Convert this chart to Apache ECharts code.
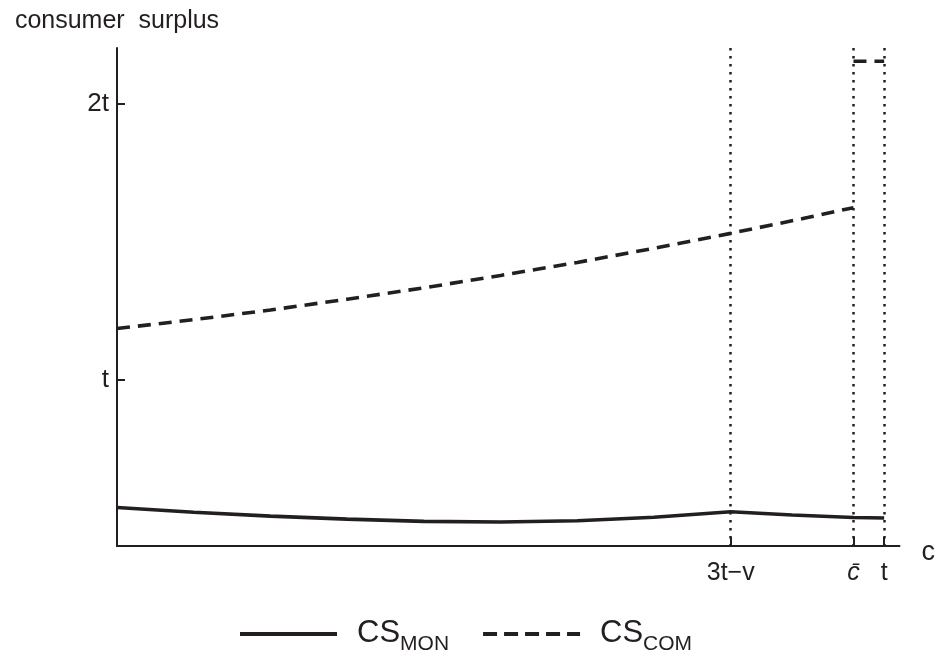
<!DOCTYPE html>
<html>
<head>
<meta charset="utf-8">
<script src="https://cdn.jsdelivr.net/npm/echarts@6/dist/echarts.min.js"></script>
<style>html,body{margin:0;padding:0;background:#fff;}#chart{width:938px;height:657px;}</style>
</head>
<body>
<div id="chart"></div>
<script>
// x in units of t (t = 1); y in units of t
const xTickValues = [0.8, 0.96, 1];
const xTickLabels = ['3t\u2212v', 'c\u0304', 't'];
const yTickValues = [1, 2];
const yTickLabels = ['t', '2t'];
const guideX = [0.8, 0.96, 1];

const monX = [0, 0.1, 0.2, 0.3, 0.4, 0.5, 0.6, 0.7, 0.8, 0.88, 0.96, 1];
const monY = [0.539, 0.522, 0.508, 0.497, 0.489, 0.487, 0.491, 0.504, 0.524, 0.512, 0.503, 0.501];

const comX = [0, 0.1, 0.2, 0.3, 0.4, 0.5, 0.6, 0.7, 0.8, 0.9, 0.96];
const comY = [1.186, 1.218, 1.253, 1.292, 1.333, 1.378, 1.425, 1.476, 1.530, 1.587, 1.623];
const comHighX = [0.96, 1];
const comHighY = [2.152, 2.152];

const seriesNames = ['CS_MON', 'CS_COM'];
const legendSub = {CS_MON: 'MON', CS_COM: 'COM'};

const FONT = "'Liberation Sans', Arial, Helvetica, sans-serif";
const INK = '#231f20';

const monData = monX.map((x, i) => [x, monY[i]]);
const comData = comX.map((x, i) => [x, comY[i]]);
comData.push([comX[comX.length - 1], '-']);
comHighX.forEach((x, i) => comData.push([x, comHighY[i]]));

const chart = echarts.init(document.getElementById('chart'), null, {renderer: 'canvas'});
chart.setOption({
  animation: false,
  backgroundColor: '#fff',
  textStyle: {fontFamily: FONT, color: INK},
  grid: {left: 117, right: 34, top: 48, bottom: 111, containLabel: false},
  xAxis: {
    type: 'value', min: 0, max: 1.02,
    name: 'c', nameLocation: 'end', nameGap: 22,
    nameTextStyle: {fontFamily: FONT, fontSize: 27, color: INK, verticalAlign: 'top', lineHeight: 14},
    axisLine: {show: true, onZero: false, lineStyle: {color: INK, width: 2}},
    axisTick: {show: true, inside: true, length: 9, customValues: xTickValues, lineStyle: {color: INK, width: 2}},
    axisLabel: {
      show: true, margin: 15, customValues: xTickValues, fontFamily: FONT, fontSize: 25, color: INK,
      formatter: function (v) {
        const i = xTickValues.findIndex(t => Math.abs(t - v) < 1e-6);
        const s = i >= 0 ? xTickLabels[i] : '';
        return i === 1 ? '{i|' + s + '}' : s;
      },
      rich: {i: {fontFamily: FONT, fontSize: 25, fontStyle: 'italic', color: INK}}
    },
    splitLine: {show: false}
  },
  yAxis: {
    type: 'value', min: 0.4, max: 2.2,
    name: 'consumer  surplus', nameLocation: 'end', nameGap: 14,
    nameTextStyle: {fontFamily: FONT, fontSize: 25, color: INK, align: 'center'},
    axisLine: {show: true, onZero: false, lineStyle: {color: INK, width: 2}},
    axisTick: {show: true, inside: true, length: 8, customValues: yTickValues, lineStyle: {color: INK, width: 2}},
    axisLabel: {
      show: true, margin: 8, customValues: yTickValues, fontFamily: FONT, fontSize: 26, color: INK,
      formatter: function (v) {
        const i = yTickValues.findIndex(t => Math.abs(t - v) < 1e-6);
        return i >= 0 ? yTickLabels[i] : '';
      }
    },
    splitLine: {show: false}
  },
  legend: {
    show: true, orient: 'horizontal', left: 238, top: 618, padding: 0,
    itemWidth: 97, itemHeight: 14, itemGap: 32,
    itemStyle: {color: 'rgba(0,0,0,0)', borderWidth: 0, opacity: 0},
    data: [
      {name: seriesNames[0], lineStyle: {color: INK, width: 4, type: 'solid'}},
      {name: seriesNames[1], lineStyle: {color: INK, width: 4, type: [14, 7]}}
    ],
    formatter: function (name) {
      return '{a|CS}{b|' + legendSub[name] + '}';
    },
    textStyle: {
      fontFamily: FONT, color: INK,
      rich: {
        a: {fontFamily: FONT, fontSize: 31, color: INK, lineHeight: 32, verticalAlign: 'top', padding: [0, 0, 0, 15]},
        b: {fontFamily: FONT, fontSize: 21, color: INK, lineHeight: 21, verticalAlign: 'top', padding: [16, 0, 0, 0]}
      }
    }
  },
  series: [
    {
      name: seriesNames[0], type: 'line', data: monData, showSymbol: false, symbol: 'none',
      smooth: false, clip: false,
      lineStyle: {color: INK, width: 3.6, type: 'solid'},
      itemStyle: {color: INK},
      markLine: {
        silent: true, symbol: ['none', 'none'], animation: false,
        label: {show: false},
        lineStyle: {color: INK, width: 2.5, type: [2.5, 5.5]},
        data: guideX.map(x => [{coord: [x, 2.2]}, {coord: [x, 0.4]}])
      }
    },
    {
      name: seriesNames[1], type: 'line', data: comData, showSymbol: false, symbol: 'none',
      smooth: false, connectNulls: false, clip: false,
      lineStyle: {color: INK, width: 3.6, type: [13, 8]},
      itemStyle: {color: INK}
    }
  ]
});
</script>
</body>
</html>
